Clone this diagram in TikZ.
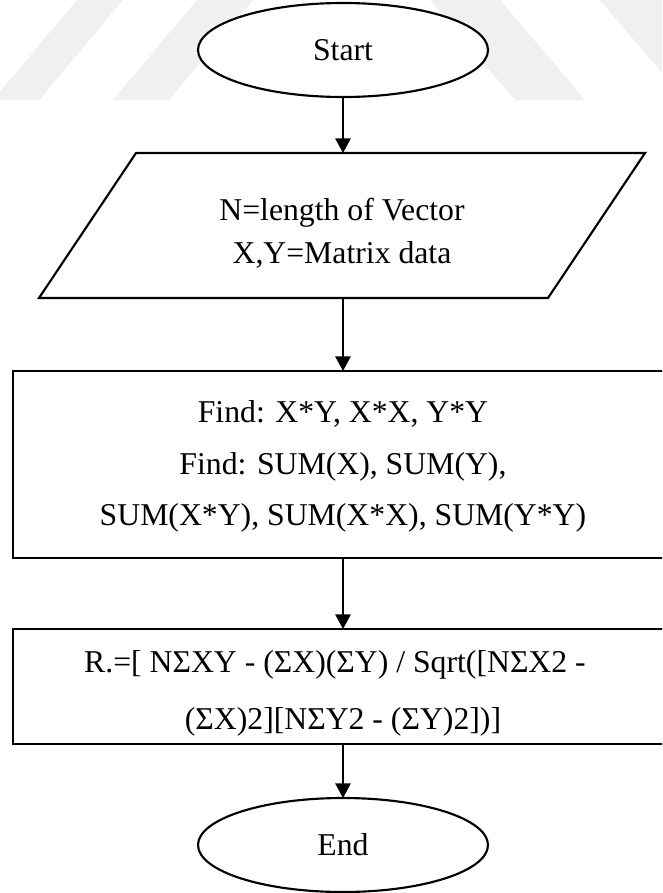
\documentclass[tikz,border=0pt]{standalone}
\usepackage{fontspec}
\setmainfont{Liberation Serif}
\usetikzlibrary{shapes.geometric,arrows.meta}
\begin{document}
\begin{tikzpicture}[x=0.75pt,y=-0.75pt,
  outline/.style={draw=black,line width=1.6pt,fill=white},
  terminal/.style={outline,ellipse,minimum width=217.5pt,minimum height=70.5pt,
    inner sep=0pt,outer sep=0pt,font=\fontsize{23.8pt}{28pt}\selectfont},
  procbox/.style={outline,rectangle,minimum width=495pt,inner sep=0pt,outer sep=0pt},
  frame/.style={rectangle,inner sep=0pt,outer sep=0pt},
  caption/.style={align=center,inner sep=0pt},
  flow/.style={line width=1.5pt,-{Triangle[length=11pt,width=11.5pt]}},
  band/.style={fill=black!6}
]
\clip (0,0) rectangle (662,893);
\fill[white] (0,0) rectangle (662,893);

% faint diagonal bands behind the top of the chart
\fill[band] (77,0) -- (123,0) -- (39,100) -- (-7,100) -- cycle;
\fill[band] (197,0) -- (253,0) -- (169,100) -- (113,100) -- cycle;
\fill[band] (430,0) -- (500,0) -- (585,100) -- (515,100) -- cycle;
\fill[band] (600,0) -- (670,0) -- (755,100) -- (685,100) -- cycle;

% start
\node[terminal] (start) at (343,50) {Start};

% input (parallelogram)
\node[frame,minimum width=454.5pt,minimum height=108.75pt] (io) at (342,225.5) {};
\draw[outline] ([xshift=72.75pt]io.north west) -- (io.north east)
  -- ([xshift=-72.75pt]io.south east) -- (io.south west) -- cycle;
\node[caption,font=\fontsize{23.8pt}{32.25pt}\selectfont] (iotext)
  at ([yshift=-6pt]io.center) {N=length of Vector\\X,Y=Matrix data};

% sums and products
\node[procbox,minimum height=140.25pt] (calc) at (343,464.5) {};
\node[caption,font=\fontsize{23.8pt}{38.5pt}\selectfont] (calctext)
  at ([yshift=-1.5pt]calc.center)
  {Find: X*Y, X*X, Y*Y\\Find: SUM(X), SUM(Y),\\SUM(X*Y), SUM(X*X), SUM(Y*Y)};

% correlation coefficient
\node[procbox,minimum height=86.25pt] (corr) at (343,686.5) {};
\node[caption,font=\fontsize{23.8pt}{42.75pt}\selectfont] (corrtext)
  at ([yshift=-5.5pt]corr.center)
  {R.=[ NΣXY - (ΣX)(ΣY) / Sqrt([NΣX2 -\hspace*{12pt}\\(ΣX)2][NΣY2 - (ΣY)2])]};

% end
\node[terminal] (end) at (343,845) {End};

% connectors
\draw[flow] (start.south) -- (start.south |- io.north);
\draw[flow] (start.south |- io.south) -- (calc.north);
\draw[flow] (calc.south) -- (corr.north);
\draw[flow] (corr.south) -- (end.north);
\end{tikzpicture}
\end{document}
